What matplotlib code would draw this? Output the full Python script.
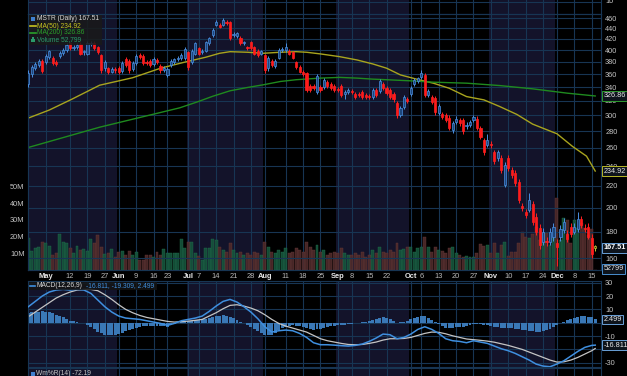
import numpy as np
import matplotlib
matplotlib.use('Agg')
import matplotlib.pyplot as plt
import matplotlib.transforms as mtransforms
from matplotlib.lines import Line2D
from matplotlib.patches import Rectangle
from matplotlib.ticker import NullLocator

plt.rcParams['font.family'] = ['Liberation Sans', 'DejaVu Sans']

# trading day index: 0 = May 1, 157 = Dec 15
days = np.arange(-5, 159)

opens = [345, 360, 370, 374, 382,
         379, 388, 386, 380, 390, 395, 400, 412, 403, 405,
         411, 396, 394, 410, 413, 405, 391, 369, 369, 364,
         368, 370, 365, 385, 382, 368, 378, 392, 390, 380,
         382, 376, 383, 373, 367, 358, 374, 380, 384, 386,
         386, 396, 379, 394, 403, 396, 399, 412, 427, 447,
         447, 447, 453, 453, 427, 426, 422, 412, 405, 414,
         405, 399, 394, 391, 369, 382, 373, 387, 400, 400,
         399, 396, 379, 371, 363, 361, 342, 341, 332, 340,
         340, 348, 345, 341, 337, 341, 329, 333, 334, 330,
         330, 332, 328, 327, 325, 335, 334, 345, 338, 335,
         329, 317, 301, 311, 322, 330, 345, 349, 355, 358,
         328, 325, 324, 303, 302, 300, 297, 281, 292, 294,
         294, 286, 288, 294, 296, 284, 269, 264, 265, 255,
         249, 249, 221, 249, 236, 233, 224, 201, 196, 198,
         203, 192, 183, 172, 173, 172, 176, 171, 176, 181,
         178, 184, 180, 182, 190, 183, 184, 175, 169]
highs = [366, 375, 380, 384, 385,
         393, 401, 389, 383, 398, 404, 412, 415, 409, 412,
         414, 401, 416, 416, 416, 408, 393, 383, 372, 371,
         371, 373, 381, 388, 385, 381, 393, 395, 393, 383,
         385, 388, 386, 376, 373, 371, 385, 387, 389, 395,
         405, 399, 402, 415, 406, 402, 417, 424, 440, 456,
         451, 460, 456, 455, 433, 434, 425, 417, 408, 417,
         408, 402, 401, 394, 390, 385, 385, 403, 405, 412,
         402, 399, 382, 374, 366, 363, 345, 344, 360, 343,
         353, 351, 348, 344, 340, 344, 335, 339, 337, 333,
         333, 335, 331, 330, 338, 338, 352, 348, 341, 338,
         332, 320, 313, 328, 325, 341, 353, 356, 366, 361,
         337, 328, 327, 316, 305, 303, 300, 293, 299, 297,
         297, 291, 294, 301, 299, 287, 272, 276, 268, 258,
         258, 252, 244, 252, 239, 236, 227, 204, 199, 213,
         206, 195, 186, 183, 176, 183, 187, 174, 185, 191,
         181, 187, 187, 196, 193, 186, 187, 178, 170]
lows = [340, 356, 366, 371, 361,
        376, 385, 375, 373, 387, 392, 397, 400, 400, 402,
        391, 392, 391, 407, 401, 394, 362, 365, 360, 361,
        362, 360, 362, 371, 362, 365, 375, 385, 375, 375,
        371, 373, 377, 362, 364, 355, 371, 377, 381, 383,
        383, 367, 376, 391, 391, 393, 396, 409, 424, 444,
        440, 444, 447, 418, 423, 422, 409, 409, 400, 400,
        391, 388, 391, 362, 365, 371, 370, 384, 397, 397,
        391, 384, 368, 361, 357, 332, 332, 335, 329, 332,
        337, 338, 335, 333, 332, 325, 322, 330, 330, 322,
        325, 322, 322, 322, 322, 325, 331, 336, 328, 322,
        319, 297, 298, 308, 317, 327, 342, 346, 352, 325,
        325, 315, 301, 300, 295, 291, 281, 278, 289, 287,
        277, 283, 285, 291, 281, 270, 252, 261, 260, 242,
        246, 233, 219, 235, 228, 220, 204, 197, 191, 196,
        185, 177, 167, 170, 169, 170, 173, 155, 173, 179,
        172, 176, 178, 180, 183, 180, 174, 160, 165]
closes = [362, 372, 377, 381, 365,
          390, 398, 378, 377, 395, 401, 409, 403, 406, 409,
          394, 398, 413, 412, 404, 397, 366, 379, 363, 368,
          366, 363, 378, 374, 366, 378, 390, 388, 378, 378,
          374, 385, 380, 366, 370, 368, 382, 384, 386, 392,
          402, 371, 399, 412, 394, 399, 414, 421, 437, 453,
          443, 457, 450, 421, 430, 431, 412, 414, 403, 403,
          394, 391, 398, 366, 387, 374, 382, 400, 402, 405,
          394, 387, 371, 364, 360, 335, 335, 338, 357, 335,
          350, 341, 338, 336, 335, 328, 332, 336, 333, 325,
          328, 325, 325, 325, 335, 328, 349, 339, 331, 325,
          322, 300, 310, 325, 320, 338, 350, 353, 361, 328,
          334, 318, 304, 313, 298, 294, 284, 290, 296, 290,
          280, 288, 291, 298, 284, 273, 255, 269, 263, 245,
          255, 236, 241, 238, 231, 223, 207, 200, 194, 207,
          188, 180, 170, 180, 172, 180, 184, 168, 182, 188,
          174, 178, 184, 190, 185, 182, 176, 163, 167.5]
volumes = [19, 11.4, 13, 13.6, 17,
           16, 14.4, 9, 10.4, 21.6, 17, 16, 13, 10.4, 14.4,
           12, 12.4, 11.4, 18.4, 16.4, 21, 13.6, 9.6, 10, 12.4,
           8, 11, 11.4, 9, 11.4, 9, 10.6, 6.2, 6.2, 9,
           9, 7.6, 11, 9, 12.4, 10, 10, 10, 10, 18.4,
           13, 17, 17, 10, 8.6, 6.2, 13, 13, 18.4, 18,
           14, 12, 11, 16, 12, 10, 11, 9, 10, 9,
           11, 10, 9, 17, 14, 11, 10, 12, 11, 13,
           10, 11, 13, 12, 11, 17, 14, 12, 15, 11,
           12, 9, 10, 11, 10, 13, 10, 9, 9, 10,
           9, 11, 8, 9, 12, 10, 14, 11, 10, 12,
           11, 16, 12, 12.4, 14, 13.6, 11, 13, 14, 19.6,
           13.6, 11, 13.6, 12, 11.4, 10, 13.4, 14, 10, 9,
           8, 8.4, 8, 8, 10, 15.4, 14.4, 15, 10, 16,
           10.4, 15, 17, 8.4, 11, 10.6, 16, 22.6, 20, 19.4,
           21.6, 26, 18, 22, 22, 15, 19, 43, 18, 31,
           30, 16, 30, 25, 28, 25, 21, 24.6, 0.0528]

ma50_idx = [-5, 1, 7.5, 15.5, 25, 33, 40.5, 46, 50, 53, 58, 62.5, 67.5, 72, 75, 79,
            84.5, 89.5, 94, 98, 102, 104.5, 107.5, 111.5, 116, 121, 126, 130.5,
            135.5, 140, 147, 151.5, 155.5, 158]
ma50_val = [296.6, 307.2, 322.2, 342.7, 354.2, 369.3, 380.1, 387.6, 394.4, 397.2,
            396.2, 394.4, 396.2, 397.2, 396.2, 393.3, 388.6, 383.0, 376.4, 369.4,
            358.6, 355.0, 350.8, 345.7, 338.2, 326.0, 321.3, 312.1, 301.3, 288.8,
            276.8, 261.7, 250.8, 234.92]
ma200_idx = [-5, 15.5, 30, 38.5, 43.5, 48, 53, 58, 62.5, 67.5, 72, 79, 84.5, 89.5,
             94, 98, 104.5, 111.5, 121, 130.5, 140, 150, 158]
ma200_val = [260.6, 284.9, 300.6, 310.2, 318.3, 326.4, 334.4, 339.3, 343.3, 348.4,
             351.1, 353.6, 354.7, 353.6, 352.0, 351.1, 349.5, 347.3, 345.8, 342.2,
             337.3, 330.9, 326.86]

macd_idx = list(range(-5, 158, 2)) + [158]
macd_val = [12, 16, 20, 23, 24.5, 25, 24.5, 25, 24.5, 22, 17, 12, 8, 5, 3.5, 3, 2.5,
            1.5, 0.5, -0.5, -2, -0.5, 1.5, 2.5,
            3.5, 5, 8.5, 12.5, 16, 17.5, 15.5, 12, 8, 3, -3, -7, -6, -5.5, -6, -8,
            -11, -15, -16.5,
            -16.5, -16.8, -17.2, -17.5, -17, -16, -14, -11.5, -8.5, -9, -12, -11,
            -8.5, -5, -3, -5, -8, -12, -13.5, -14, -15, -13.5, -14.5, -15.5, -17.5,
            -19.5, -21, -23, -25.5, -28, -31, -32.5, -33, -31, -28.5, -25, -21.5,
            -18.5, -17, -16.811]
signal_val = [4.5, 8, 11.5, 15, 18.5, 21, 23, 24.5, 25, 25, 24, 21, 17.5, 13.5, 10,
              7.5, 5.5, 4, 3, 2, 1, 0.5, 0.8, 1.2,
              1.8, 2.5, 5, 7.5, 10.5, 13, 13.5, 12.5, 11, 9, 6, 2.5, -0.5, -2.5, -4,
              -5.5, -7, -9.5, -12,
              -13.5, -14.5, -15.5, -16.3, -16.5, -16.3, -15.5, -14.5, -13, -12, -12,
              -11.8, -11, -9.5, -8, -7, -7.2, -8.3, -9.8, -11, -12.2, -12.7, -13.2,
              -13.8, -14.6, -15.8, -17, -18.5, -20, -22, -24, -26, -28, -29.5,
              -29.3, -28, -26, -23.5, -21, -19.309]
hist_val = [7.5, 7.8, 8, 8.2, 8.5,
            8.3, 8, 7, 6, 5, 4, 2.8, 1.5, 1, 0.5,
            0, -0.5, -1.7, -3, -5, -7, -8, -9, -9.3, -9.5,
            -9, -8.5, -7.5, -6.5, -5.5, -4.5, -3.7, -3, -2.7, -2.5,
            -2.5, -2.5, -2.5, -2.5, -2.8, -3, -2, -1, -0.2, 0.7,
            1, 1.3, 1.5, 1.7, 2.1, 2.5, 3, 3.5, 4.2, 5,
            5.3, 5.5, 5, 4.5, 3.2, 2, 0.8, -0.5, -1.7, -3,
            -4.5, -6, -7.5, -9, -9.3, -9.5, -7.5, -5.5, -4.2, -3,
            -2.5, -2, -2.2, -2.5, -3.2, -4, -4.8, -5.5, -5, -4.5,
            -3.7, -3, -2.6, -2.3, -2, -1.7, -1.4, -1.2, -0.8, -0.5,
            -0.1, 0.3, 0.9, 1.5, 2.2, 3, 3.8, 4.5, 3.8, 3,
            1.5, 0, 0.4, 0.8, 1.6, 2.5, 3.5, 4.5, 4.8, 5,
            3.5, 2, 0.6, -0.8, -2.2, -3.7, -3.7, -3.7, -3.3, -3,
            -2.9, -2.8, -1.8, -0.8, -1, -1.3, -1.5, -1.7, -2.3, -2.9,
            -3.3, -3.7, -3.9, -4, -4.2, -4.5, -5, -5.5, -5.8, -6,
            -6.5, -7, -6.8, -6.5, -5.8, -5, -3.2, -1.5, -0.3, 0.8,
            1.9, 3, 3.8, 4.5, 4.8, 5, 4.5, 4, 2.499]

month_start = [0, 21, 41, 63, 84, 105, 128, 147]
tick_pos = [0, 7, 12, 17, 21, 26, 31, 35, 41, 44, 49, 54, 59, 63, 69, 74, 79, 84,
            88, 93, 98, 105, 108, 113, 118, 123, 128, 133, 138, 143, 147, 152, 157]
tick_lab = ['May', '12', '19', '27', 'Jun', '9', '16', '23', 'Jul', '7', '14', '21',
            '28', 'Aug', '11', '18', '25', 'Sep', '8', '15', '22', 'Oct', '6', '13',
            '20', '27', 'Nov', '10', '17', '24', 'Dec', '8', '15']
price_ticks = list(range(160, 461, 20))
vol_ticks = [10, 20, 30, 40, 50]
macd_grid = [30, 20, 10, 0, -10, -20, -30]
macd_ticks = [30, 20, 10, -10, -30]   # 0 and -20 sit under the value tags

W, H = 627, 376
NAVY = '#13132a'
GRID = '#173553'
TXT = '#c4c4c4'
XL = (-5.09, 159.66)


def fr(x0, y0, x1, y1):
    return [x0 / W, 1 - y1 / H, (x1 - x0) / W, (y1 - y0) / H]


def panel(a, shade=True):
    a.set_facecolor('black' if shade else 'none')
    if shade:
        for k in range(0, len(month_start), 2):
            left = XL[0] if k == 0 else month_start[k] - 0.5
            a.axvspan(left, month_start[k + 1] - 0.5, color=NAVY, lw=0, zorder=0)
        for t in tick_pos:
            a.axvline(t, color=GRID, lw=0.8, zorder=0.5)
    a.set_xlim(*XL)
    a.set_xticks([])
    for s in a.spines.values():
        s.set_color(GRID)
        s.set_linewidth(0.8)


def ftext(x, y, s, **kw):
    fig.text(x / W, 1 - y / H, s, va='center', **kw)


def fline(x0, x1, y, color, lw=1.2):
    fig.add_artist(Line2D([x0 / W, x1 / W], [1 - y / H, 1 - y / H], color=color, lw=lw))


def frect(x0, y0, x1, y1, color, alpha=1.0):
    fig.add_artist(Rectangle((x0 / W, 1 - y1 / H), (x1 - x0) / W, (y1 - y0) / H,
                             transform=fig.transFigure, fc=color, ec='none', alpha=alpha))


def tag(a, val, s, edge, tc='#e8e8e8', bold=False):
    tr = mtransforms.blended_transform_factory(a.transAxes, a.transData)
    a.text(1.004, val, s, transform=tr, ha='left', va='center', fontsize=5.2,
           color=tc, fontweight='bold' if bold else 'normal', zorder=10,
           bbox=dict(boxstyle='square,pad=0.18', fc='#0e141c', ec=edge, lw=0.7))


fig = plt.figure(figsize=(6.27, 3.76), dpi=100, facecolor='black')

o, h, l, c = map(np.array, (opens, highs, lows, closes))
up = c >= o
edge_c = np.where(up, '#4a8fe0', '#ff2020').astype(object)
face_c = np.where(up, '#1d467c', '#ff1a1a').astype(object)
edge_c[-1] = '#c8c83a'
face_c[-1] = '#33330f'

# partial panel above
ax_top = fig.add_axes(fr(28, -20, 601, 14.3))
panel(ax_top)
ax_top.set_yticks([])
ax_top.set_ylim(0, 1)
ax_top.axhline(0.36, color=GRID, lw=0.8)
ax_top.text(1.008, 0.36, '10', transform=ax_top.transAxes, color=TXT, fontsize=5.3,
            va='center')

# volume layer
ax_vol = fig.add_axes(fr(28, 14.3, 601, 270))
panel(ax_vol)
ax_vol.bar(days, volumes, width=0.85, color=np.where(up, '#16543c', '#4e2b2b'),
           edgecolor=np.where(up, '#22714f', '#693939'), lw=0.3, alpha=0.9, zorder=1)
ax_vol.set_ylim(0, 153.4)
ax_vol.set_yticks(vol_ticks)
ax_vol.set_yticklabels([f'{v}M' for v in vol_ticks])
ax_vol.tick_params(axis='y', length=0, pad=2.5, labelsize=5.3, labelcolor=TXT)

# price layer
ax = fig.add_axes(fr(28, 14.3, 601, 270))
panel(ax, shade=False)
ax.set_yscale('log')
ax.set_ylim(152.0, 468.2)
ax.yaxis.set_minor_locator(NullLocator())
ax.set_yticks(price_ticks)
ax.set_yticklabels([str(p) for p in price_ticks])
ax.yaxis.tick_right()
ax.tick_params(axis='y', length=0, pad=3, labelsize=5.3, labelcolor=TXT)
for p in price_ticks:
    ax.axhline(p, color=GRID, lw=0.8, zorder=0.5)

ax.plot(ma50_idx, ma50_val, color='#a8a41e', lw=1.0, zorder=2)
ax.plot(ma200_idx, ma200_val, color='#1f8a1f', lw=1.0, zorder=2)
ax.vlines(days, l, h, colors=list(edge_c), lw=0.7, zorder=3)
ax.bar(days, np.maximum(np.abs(c - o), 0.8), bottom=np.minimum(o, c), width=0.62,
       color=list(face_c), edgecolor=list(edge_c), lw=0.5, zorder=4)

tag(ax, 326.86, '326.86', '#2e9a2e')
tag(ax, 234.92, '234.92', '#b8b828')
tag(ax, 167.51, '167.51', '#6aa0d8', tc='white', bold=True)
tag(ax_vol, 0.6, '52799', '#4a8fd0')

trx = mtransforms.blended_transform_factory(ax.transData, ax.transAxes)
for t, s in zip(tick_pos, tick_lab):
    month = not s.isdigit()
    ax.text(t, -6 / 255.7, s, transform=trx, ha='center', va='center', fontsize=5.4,
            color='#e8e8e8' if month else '#b8b8b8',
            fontweight='bold' if month else 'normal')

# MACD panel
ax_m = fig.add_axes(fr(28, 281, 601, 367))
panel(ax_m)
ax_m.set_ylim(-33.2, 31.3)
for v in macd_grid:
    ax_m.axhline(v, color=GRID, lw=0.8, zorder=0.5)
ax_m.bar(days, hist_val, width=0.85, color='#3a78b6', lw=0, zorder=1)
ax_m.plot(macd_idx, signal_val, color='#c4c4c4', lw=0.9, zorder=2)
ax_m.plot(macd_idx, macd_val, color='#3f8fdf', lw=1.1, zorder=3)
ax_m.set_yticks(macd_ticks)
ax_m.set_yticklabels([str(v) for v in macd_ticks])
ax_m.yaxis.tick_right()
ax_m.tick_params(axis='y', length=0, pad=3, labelsize=5.3, labelcolor=TXT)
tag(ax_m, 2.499, '2.499', '#6aa0d8')
tag(ax_m, -16.811, '-16.811', '#6aa0d8')

# Williams %R panel (cut off at the bottom)
ax_w = fig.add_axes(fr(28, 368, 601, 410))
panel(ax_w)
ax_w.set_yticks([])

# legends
frect(29, 15, 102, 44.5, '#1a1a1a', 0.85)
frect(30.5, 17, 35, 21, '#3f7fcf')
ftext(37, 19, 'MSTR (Daily) 167.51', color='#d8d8d8', fontsize=4.8)
fline(30, 35.5, 26, '#c8c420')
ftext(37, 26, 'MA(50) 234.92', color='#c8c420', fontsize=4.8)
fline(30, 35.5, 33, '#2aa02a')
ftext(37, 33, 'MA(200) 326.86', color='#2aa02a', fontsize=4.8)
frect(30.5, 38.5, 31.8, 42, '#2a9a6a')
frect(32.3, 37.5, 33.6, 42, '#2a9a6a')
frect(34.1, 39.5, 35.4, 42, '#2a9a6a')
ftext(37, 40, 'Volume 52,799', color='#2a9a6a', fontsize=4.8)

frect(29, 281.5, 157, 289.5, '#141414', 0.85)
fline(30, 35, 285.5, '#3f8fdf')
ftext(36.5, 285.5, 'MACD(12,26,9)', color='#d8d8d8', fontsize=4.8)
ftext(86, 285.5, '-16.811, -19.309, 2.499', color='#3f8fdf', fontsize=4.8)

frect(30.5, 371.5, 34.5, 375.5, '#3f7fcf')
ftext(36.5, 373.5, 'Wm%R(14) -72.19', color='#c8c8c8', fontsize=4.8)

fig.savefig('out.png', dpi=100, facecolor='black')
